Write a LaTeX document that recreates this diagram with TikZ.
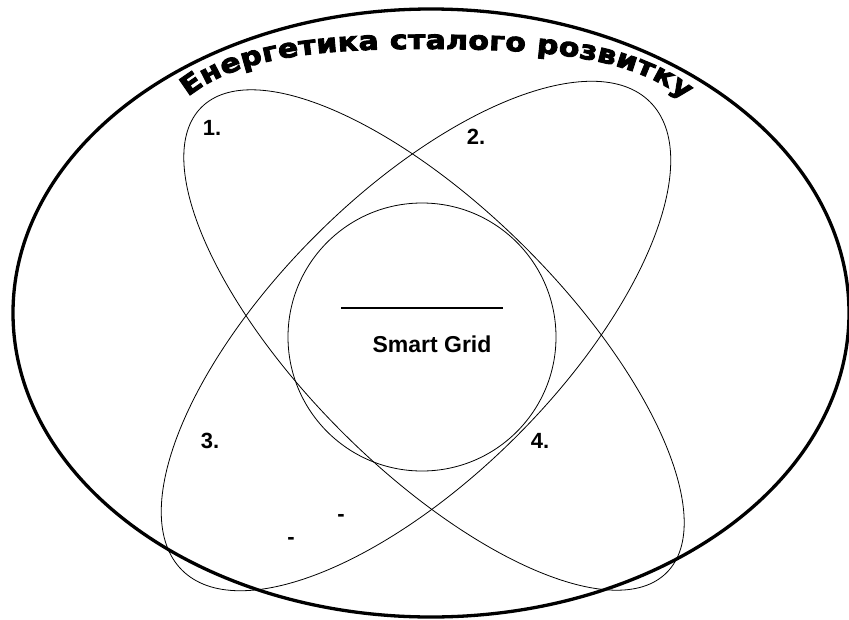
\documentclass[tikz,border=0pt]{standalone}
\usepackage{fontspec}
\setmainfont{Liberation Sans}
\newfontfamily\titlefont[FakeStretch=1.15,FakeBold=3.5]{DejaVu Sans}
\usetikzlibrary{decorations.text,positioning}
\tikzset{
    outer/.style={draw, line width=3.3pt},
    petal/.style={draw, line width=0.8pt},
    core/.style={draw, line width=0.8pt},
    numlabel/.style={font=\bfseries\fontsize{22}{24}\selectfont, inner sep=0pt},
    dashmark/.style={font=\bfseries\fontsize{22}{24}\selectfont, inner sep=0pt}
}
\newcommand\titlestyle{\titlefont\bfseries\fontsize{26}{30}\selectfont}

\begin{document}
\begin{tikzpicture}[x=1pt, y=1pt,
                    gridname/.style={font=\bfseries\fontsize{23}{26}\selectfont, inner sep=0pt}]
    \useasboundingbox (0,0) rectangle (849,-619);

    % shapes
    \draw[outer] (431,-313) ellipse [x radius=418pt, y radius=304pt];
    \draw[petal] (434,-340) circle [x radius=329pt, y radius=130pt, rotate=-45];
    \draw[petal] (416,-336) circle [x radius=331pt, y radius=142pt, rotate=45];
    \draw[core] (422,-337) circle [radius=134pt];

    % title
    \path[decorate, decoration={text along path,
          text={|\titlestyle|Енергетика сталого розвитку},
          text align={fit to path}}]
        (188,-97) .. controls (240,-55) and (330,-48) .. (440,-49)
                  .. controls (540,-50) and (630,-55) .. (685,-100);

    % labels
    \node[numlabel] (one)   at (212,-128) {1.};
    \node[numlabel] (two)   at (476,-137) {2.};
    \node[numlabel] (three) at (210,-441) {3.};
    \node[numlabel] (four)  at (540,-441) {4.};
    \node[gridname] (grid)  at (432,-344) {Smart Grid};
    \node[dashmark] (dashA) at (341,-517.5) {-};
    \node[dashmark] (dashB) at (291,-540.5) {-};

    % line above the name
    \coordinate (lineL) at (341,-308);
    \coordinate (lineR) at (503,-308);
    \draw[line width=2pt] (lineL) -- (lineR);
\end{tikzpicture}
\end{document}
